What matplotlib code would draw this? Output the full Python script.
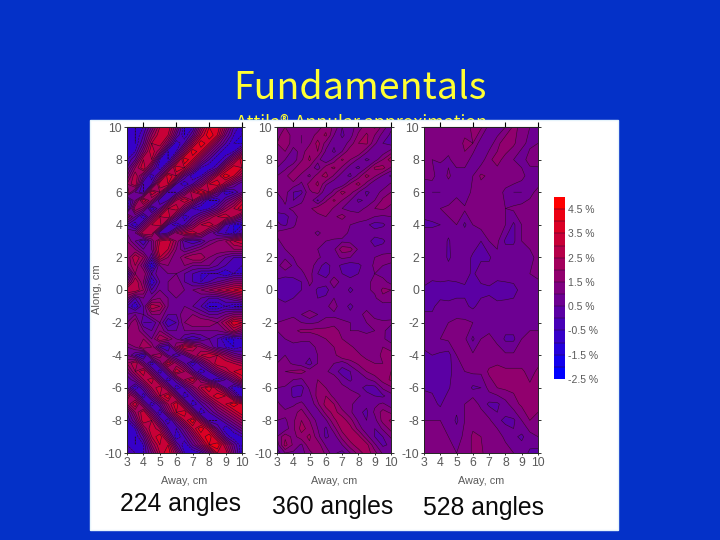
import numpy as np
import matplotlib
matplotlib.use("Agg")
import matplotlib.pyplot as plt
from matplotlib.colors import LinearSegmentedColormap, BoundaryNorm
from matplotlib.patches import Rectangle

plt.rcParams["axes.unicode_minus"] = False

x_cm = [3, 3.5, 4, 4.5, 5, 5.5, 6, 6.5, 7, 7.5, 8, 8.5, 9, 9.5, 10]
y_fine = [10, 9.5, 9, 8.5, 8, 7.5, 7, 6.5, 6, 5.5, 5, 4.5, 4, 3.5, 3, 2.5, 2, 1.5, 1, .5, 0,
          -.5, -1, -1.5, -2, -2.5, -3, -3.5, -4, -4.5, -5, -5.5, -6, -6.5, -7, -7.5, -8, -8.5, -9, -9.5, -10]
y_coarse = [10, 9, 8, 7, 6, 5, 4, 3, 2, 1, 0, -1, -2, -3, -4, -5, -6, -7, -8, -9, -10]

err_224 = [
 [-.5,-1,-.5,1,3,3.5,1.5,-1,-.5,2,4,4,2,0,-1],
 [-.5,-1,0,2,3.5,3,.5,-1,.5,3,4.5,3.5,1,-.5,-1],
 [-.5,-1,.5,3,3.5,1.5,-1,0,2.5,4.5,3.5,1.5,0,-1,-1],
 [-.5,-.5,1.5,3.5,2,-1,-.5,2,4.5,3.5,1.5,0,-1,-.5,1],
 [-.5,.5,3,3,-.5,-1,1.5,4.5,3.5,1.5,0,-1,0,2,4],
 [0,2,3.5,1,-1,1,4,3.5,1.5,-.5,-1,0,2.5,4,3.5],
 [1,3,1,-1,1,4,3,.5,-1,-.5,1,3,4.5,3.5,2],
 [2,3,-.5,0,3.5,3.5,0,-1,0,1.5,3.5,4,2.5,1,0],
 [2.5,.5,-.5,3.5,2.5,-.5,-.5,1,3,4,3,1,-1,-.5,.5],
 [-1,1,3.5,2,-.5,0,2.5,3.5,2.5,.5,-1,-1,.5,1.5,3],
 [-1,2.5,1.5,-1,.5,3,3.5,1.5,-.5,-1,-.5,.5,2,3,4],
 [2,.5,-1,1,3,3.5,1,-1,0,1,2,3,3.5,2.5,1],
 [0,-1,1,3,3.5,0,-1,0,1.5,3,3.5,2.5,0,-1,-1],
 [1,1,3,3,-.5,0,2,3,3.5,2.5,1,0,-.5,-1,0],
 [1.5,.5,-.5,1,3,3.5,2,0,-.5,0,1,1.5,2,3,3.5],
 [2,1.5,.5,1,3.5,3,1.5,.5,1,1.5,2,2,2,2,2],
 [1.5,3,2,0,3,2,1,2,2.5,2.5,1.5,1,.5,0,0],
 [1.5,2.5,1,-1.5,1,1.5,1.5,1.5,1,1,1,.5,0,0,-.5],
 [-.5,2,2,0,1,1,1,.5,0,-.5,-.5,-.5,-1,-.5,-.5],
 [1,3,1.5,-1,.5,1,1.5,.5,0,-.5,0,.5,1,1.5,1.5],
 [3,3,2,0,1,1,1.5,1,1,1.5,2,2.5,3,3.5,4],
 [1.5,0,1,1,1.5,1,1,1,1,.5,0,0,.5,1,1.5],
 [0,-1,.5,3,2.5,1,1,1,.5,0,-1,-1,-.5,-1,-1],
 [.5,1,.5,1.5,1.5,.5,.5,1.5,1.5,1,.5,.5,1,1.5,1.5],
 [1,2,0,0,1,-.5,0,1.5,2,2,2,1.5,2.5,4,3.5],
 [1.5,2,1,.5,1.5,.5,.5,1,1,1,1,1,1.5,2.5,1.5],
 [2,2,2,1,2.5,2,1,0,-.5,0,.5,0,-1,-1,-.5],
 [1,1.5,2.5,2,0,-.5,2,3.5,3,2,1,0,-.5,-1,-.5],
 [1,0,-1,2,2.5,.5,-.5,.5,2,3,3.5,3,2,1,.5],
 [2,3,1,-1,1,3.5,2,.5,-1,.5,2,3.5,3.5,3,2.5],
 [1,2.5,3.5,1,-1,1,3.5,2.5,.5,-1,0,1.5,2.5,3.5,4],
 [0,1,2.5,3.5,1,-1,.5,2.5,3.5,1.5,0,-1,0,1.5,3],
 [.5,-1,.5,2.5,3.5,1.5,-1,0,1.5,3,4,2.5,.5,-1,-.5],
 [3,1.5,-1,1,3,4,1.5,-1,0,1.5,3,4,3.5,1,-1],
 [2,3.5,1,-1,.5,2.5,4,1.5,-1,0,1,2.5,3.5,4.5,3.5],
 [0,2,3.5,1,-1,1.5,3.5,4,1.5,-1,0,1,2,3,4],
 [-.5,1,3.5,3,.5,-1,1,3,4.5,2,-.5,-.5,.5,1.5,2.5],
 [-1,-.5,2,3.5,2.5,0,-.5,1,3,4.5,3,.5,-1,0,1],
 [-.5,-1,.5,3,4,1.5,-1,0,1.5,3.5,4.5,2.5,0,-1,-.5],
 [-.5,-1,-.5,2,3.5,3.5,.5,-1,.5,2,4,4.5,2.5,.5,-1],
 [0,-.5,-.5,1,3,4,2,-.5,-1,-.5,1,3.5,3.5,1,-1],
]

err_360 = [
 [1.2,1.5,1.3,1.4,1.0,1.2,1.8,1.4,.5,.7,1.3,1.7,2.1,1.3,.6],
 [1.3,1.8,1.3,1.0,1.2,1.7,2.1,1.0,.4,.8,1.6,2.1,1.5,.8,.4],
 [1.5,1.9,1.2,1.0,1.4,2.2,1.3,.6,.7,1.2,2.0,2.1,1.1,.5,.3],
 [1.3,1.5,.8,1.2,1.9,2.0,.9,.4,1.0,1.9,2.0,1.1,.5,.7,1.2],
 [1.1,1.0,.7,1.4,2.1,1.2,.5,1.2,2.1,1.5,.9,.4,.7,1.5,2.3],
 [1.0,.9,1.3,2.0,1.4,.7,1.8,2.1,1.4,.7,.4,1.0,2.1,2.2,1.4],
 [1.0,1.3,2,1.3,.9,1.8,2.2,1.4,.7,.4,1.2,2.2,1.6,.9,.4],
 [1.1,1.3,1.3,.9,1.7,2.1,1.1,.6,.6,1.6,2.2,1.3,.5,.6,1.1],
 [1.0,1.2,.5,.4,1.4,1.7,.5,1.2,2.2,1.7,1.0,.4,.7,1.2,1.5],
 [.7,1.1,.5,.9,1.4,.4,1.4,2.1,1.5,1.0,.4,.6,1.0,1.6,1.7],
 [.6,.9,1.1,1.2,1.4,1.8,2,1.4,1.0,.9,.8,1.1,1.5,1.6,1.3],
 [.4,.3,.8,1.2,1.2,1.3,1.5,1.4,1.7,1.2,1.2,1.3,1.0,.9,1.0],
 [.6,.4,.9,1.3,1.3,1.3,1.2,1.3,1.1,1.0,.9,.6,.3,.4,.8],
 [1.1,1.4,1.2,1.2,1.2,.9,1.2,1.3,1.2,.9,.6,.5,.7,.8,1.0],
 [.9,1.2,1.4,1.2,1.1,1.2,1.0,.9,.9,.8,.8,.7,.3,.4,.8],
 [.8,1.0,1.3,1.4,1.3,1.0,.7,.9,1.8,1.7,.9,.7,.6,.7,.8],
 [.8,.9,1.0,1.5,1.3,1.1,.8,.8,1.1,1.0,.8,.8,1.0,1.2,1.2],
 [.8,1.4,.9,1.1,1.3,.7,.3,.7,.4,.2,.4,.7,1.1,1.0,.9],
 [.7,.7,.8,.9,1.2,.5,.3,.8,.5,.3,.5,.8,1.0,.8,.6],
 [.4,.2,.2,.5,1.1,.8,.7,1.3,.8,.7,.8,.9,1.1,1.2,.8],
 [.4,.2,.2,.5,.9,.4,.3,.9,.8,.4,.7,.9,1.1,1.6,1.5],
 [.5,.4,.5,.7,.9,.5,.6,1.0,.9,.7,.9,.8,.9,1.4,1.3],
 [.6,.6,.7,.8,.9,.7,.9,1.2,.7,.4,.7,.9,.5,.7,.7],
 [.9,.8,.9,1.0,1.1,1.0,.8,.9,.8,.6,.9,1.1,.9,.7,.6],
 [1.0,1.1,1.2,1.0,.9,1.0,1.3,1.2,1.1,1.0,.9,1.0,1.1,1.1,1.2],
 [1.0,1.2,1.4,1.6,1.6,1.7,1.6,1.9,1.2,1.0,1.0,.9,1.0,1.2,.5],
 [.9,1.0,1.1,1.2,1.1,1.3,1.5,1.6,1.5,1.2,1.1,1.2,1.3,1.1,.7],
 [.7,.8,.9,.6,.8,1.1,1.2,1.5,1.8,1.6,1.3,1.2,1.3,1.5,1.3],
 [.9,1.0,.7,.5,.6,1.0,1.1,1.3,2.0,2.0,1.6,1.3,1.3,1.6,1.7],
 [1.0,1.2,.9,.7,.3,1.0,1.2,1.0,.7,1.2,1.6,1.7,1.5,1.5,1.6],
 [1.3,1.5,1.6,1.7,1.3,1.3,1.1,.7,.3,.5,1.0,1.5,1.8,1.8,2.0],
 [1.2,1.4,1.0,.9,1.5,1.5,1.4,1.4,.7,.4,.9,.9,1.2,1.7,2.1],
 [1.0,.9,.4,.3,1.1,1.6,1.5,1.3,1.2,.9,.7,.3,.3,1.1,1.4],
 [.8,1.0,.4,.5,.8,1.7,2.0,1.3,1.3,1.3,1.1,.7,.5,.4,.8],
 [1.2,.6,.9,1.2,.5,1.4,2.2,2.0,1.1,1.2,.5,.6,.9,1.1,.7],
 [1.1,1.2,1.3,1.7,1.0,.7,1.7,2.2,1.7,1.1,.6,.4,1.1,1.7,1.4],
 [1.0,.9,1.4,2.0,1.5,.8,.9,1.9,2.3,1.7,.9,.5,.8,1.7,2.1],
 [.9,.7,1.4,2.2,1.8,1.0,.4,1.3,2.2,2.2,1.3,.6,.5,1.1,1.7],
 [1.0,1.9,1.3,1.8,2.1,1.2,.4,.7,1.7,2.3,2.2,1.2,.5,.5,1.1],
 [.7,2.2,1.4,.9,1.9,1.8,.9,.5,1.0,1.8,2.3,2.2,1.1,.4,.6],
 [.2,1.0,.9,.8,1.3,1.9,1.4,.6,.3,1.0,1.7,2.3,1.7,.9,.5],
]

err_528 = [
 [1.2,1.2,1.3,1.3,1.1,1.3,1.6,1.6,.8,.6,1.0,1.6,1.4,1.0,.8],
 [1.2,1.1,1.0,1.3,1.2,1.6,1.5,.7,.7,1.3,1.9,1.6,1.1,.9,1.0],
 [1.2,1.0,1.1,.9,1.3,1.4,.7,.7,1.4,1.7,1.3,1.0,.8,1.2,1.4],
 [1.1,1.2,.6,1.1,.7,.6,1.0,1.6,1.4,1.2,1.3,1.5,1.2,.7,.5],
 [.6,.5,.5,.6,.9,.5,1.2,1.2,1.1,1.2,.9,.5,.5,.8,1.2],
 [.7,.9,1.0,1.1,1.2,1.1,1.2,1.2,1.2,1.1,1.0,1.1,1.2,1.3,1.1],
 [.4,.4,.5,.9,1.0,.4,1.0,1.2,1.1,1.1,1.0,.4,1.0,1.1,1.1],
 [1.0,1.0,1.0,.4,1.0,1.0,.8,.5,1.0,1.1,.4,.4,1.0,1.1,1.1],
 [.8,.8,.9,.4,.8,.8,.4,.4,.4,.9,.9,.9,.8,.9,1.1],
 [.8,.8,.8,.8,.7,.7,.4,.8,.8,.8,.8,.8,.8,1.0,1.1],
 [.4,.1,.2,.1,.3,.4,.1,.3,.4,.1,.2,.3,.7,.8,.8],
 [.4,.4,.7,.7,.7,.6,.4,.7,.7,.7,.7,.7,.7,.7,.7],
 [.7,.7,.8,1.0,1.1,1.1,1.0,.8,.8,.8,.8,.8,.8,.9,.9],
 [.7,.7,1.0,1.1,1.1,1.1,.4,1.0,1.1,.9,.4,.4,1.0,1.1,1.1],
 [.4,.5,.4,.3,1.0,1.1,1.1,1.2,1.1,1.2,1.1,1.1,1.1,1.2,1.2],
 [.4,.4,.4,.3,.8,1.0,1.1,1.1,1.6,1.7,1.6,1.6,1.6,1.3,1.6],
 [.4,.4,.4,.4,1.0,.9,.4,.5,1.2,1.5,1.6,1.6,1.6,1.6,1.6],
 [1.0,.7,.4,1.0,.7,1.0,1.4,.8,.4,.4,.8,1.3,1.6,1.6,1.6],
 [1.0,1.0,1.0,.9,.4,1.0,1.3,1.5,1.1,.6,.4,.4,1.0,1.5,1.4],
 [1.4,1.3,1.3,1.0,.8,1.1,1.6,1.5,1.4,1.4,.8,.6,.4,.8,1.0],
 [1.3,1.2,1.4,1.1,1.0,1.1,1.6,1.6,1.2,1.3,1.4,1.0,.8,.4,.3],
]

panel_labels = ["224 angles", "360 angles", "528 angles"]
bar_labels = ["4.5 %", "3.5 %", "2.5 %", "1.5 %", "0.5 %", "-0.5 %", "-1.5 %", "-2.5 %"]
bar_ticks = [4.5, 3.5, 2.5, 1.5, 0.5, -0.5, -1.5, -2.5]
levels = np.arange(-2.5, 5.01, 0.5)

W, H = 720, 540
def pix_axes(fig, l, t, r, b, **kw):
    return fig.add_axes([l / W, 1 - b / H, (r - l) / W, (b - t) / H], **kw)

BG = "#0431c8"
YEL = "#ffff33"
GREY = "#5a5a5a"

cmap = LinearSegmentedColormap.from_list("br", ["#0000ff", "#ff0000"])
norm = BoundaryNorm(levels, cmap.N)

fig = plt.figure(figsize=(7.2, 5.4), dpi=100, facecolor=BG)

jp = ["Noto Sans CJK JP", "DejaVu Sans"]
fig.text(360 / W, 1 - 89 / H, "Fundamentals", color=YEL, fontsize=27, family=jp,
         ha="center", va="center", zorder=1)
fig.text(361 / W, 1 - 123 / H, "Attila®-Annular approximation", color=YEL, fontsize=12.8,
         family=jp, ha="center", va="center", zorder=1)

fig.add_artist(Rectangle((90 / W, 1 - 530 / H), 528 / W, 410 / H, transform=fig.transFigure,
                         facecolor="white", edgecolor="#e6f4fb", lw=1, zorder=2))

lib = "Liberation Sans"
panels = [(127, 242, err_224, y_fine), (277, 391, err_360, y_fine), (424, 538, err_528, y_coarse)]
for (l, r, data, ys) in panels:
    ax = pix_axes(fig, l, 127, r, 453, zorder=3)
    ax.contourf(x_cm, ys, np.array(data), levels=levels, cmap=cmap, norm=norm, extend="both")
    ax.contour(x_cm, ys, np.array(data), levels=levels, colors="#2a0a30", linewidths=0.4)
    ax.set_xlim(3, 10)
    ax.set_ylim(-10, 10)
    ax.set_xticks(range(3, 11))
    ax.set_yticks(range(-10, 11, 2))
    ax.tick_params(axis="both", labelsize=8.8, labelcolor=GREY, color="#333333", length=1.5,
                   width=0.7, pad=1.5, direction="out")
    ax.tick_params(axis="y", right=True, length=2)
    ax.secondary_xaxis("top").set_xticks(range(4, 11, 2), labels=[])
    for lab in ax.get_xticklabels() + ax.get_yticklabels():
        lab.set_family(lib)
    for s in ax.spines.values():
        s.set_linewidth(0.7)
        s.set_color("#222222")
    fig.text((l + r) / 2 / W, 1 - 481 / H, "Away, cm", fontsize=7.8, color=GREY, family=lib,
             ha="center", va="center", zorder=4)

fig.text(97 / W, 1 - 289 / H, "Along, cm", fontsize=8, color=GREY, family=lib, rotation=90,
         ha="center", va="center", zorder=4)

for cx, cy, txt in zip([180.5, 332.5, 483.5], [504, 507, 508], panel_labels):
    fig.text(cx / W, 1 - cy / H, txt, fontsize=17.8, color="#0a0a0a", family=lib,
             ha="center", va="center", zorder=4)

cax = pix_axes(fig, 554, 197, 565, 379, zorder=3)
cax.pcolormesh([0, 1], levels, (levels[:-1] + 0.25).reshape(-1, 1), cmap=cmap, norm=norm)
cax.hlines(levels[1:-1], 0, 1, colors="#2a0a30", linewidths=0.35)
cax.set_xlim(0, 1)
cax.set_ylim(-2.5, 5)
cax.set_xticks([])
cax.yaxis.tick_right()
cax.set_yticks(bar_ticks, labels=bar_labels)
cax.tick_params(axis="y", length=0, pad=2, labelsize=7.5, labelcolor=GREY)
for lab in cax.get_yticklabels():
    lab.set_family(lib)
for s in cax.spines.values():
    s.set_visible(False)

fig.savefig("out.png", dpi=100, facecolor=BG)
